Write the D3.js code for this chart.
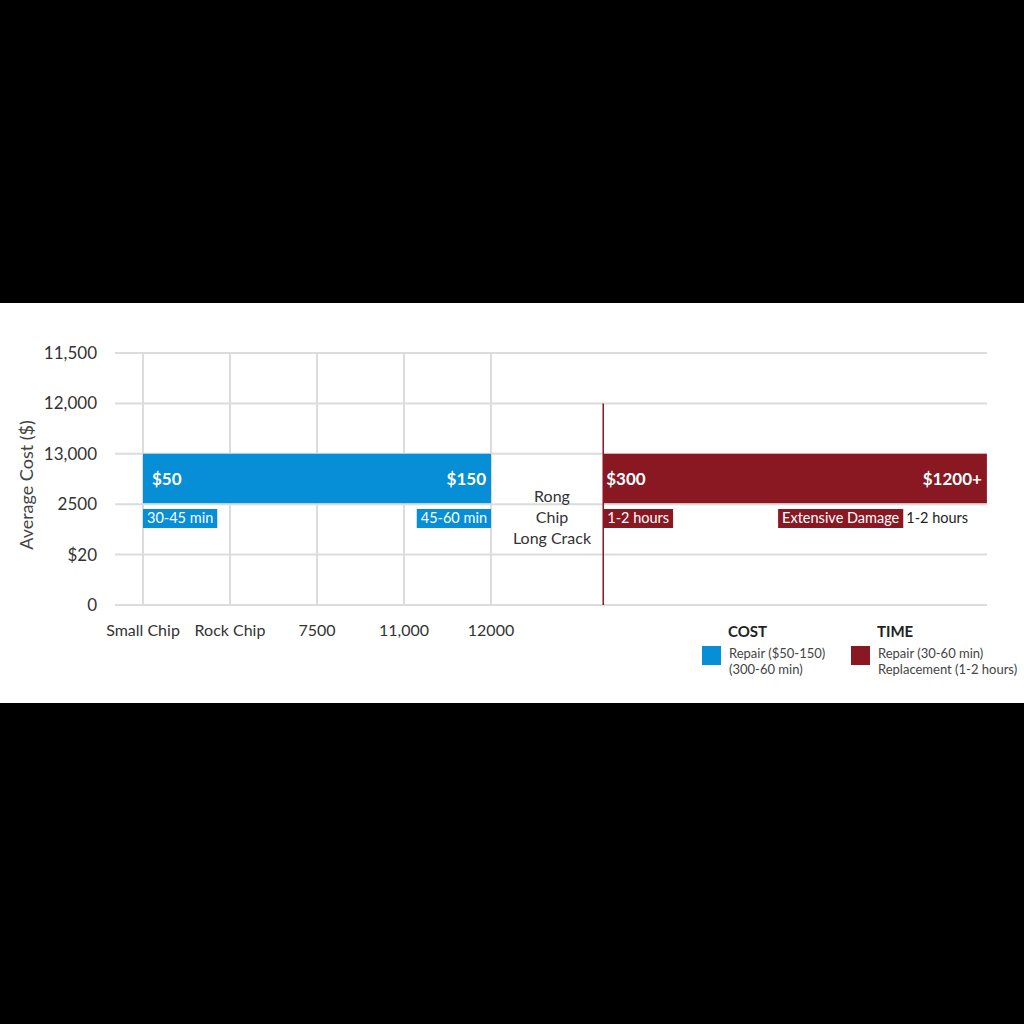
<!DOCTYPE html>
<html><head><meta charset="utf-8">
<script src="https://cdn.jsdelivr.net/npm/d3@7"></script>
<style>
html,body{margin:0;padding:0;background:#000;}
svg{display:block;}
text{font-family:Lato,"Open Sans",sans-serif;}
</style></head>
<body>
<script>
// ---- data ----
const yTickLabels = ["11,500","12,000","13,000","2500","$20","0"];
const xTickLabels = ["Small Chip","Rock Chip","7500","11,000","12000"];
const barNames = ["Repair","Replacement"];
const barStart = [0, 5.29];      // in x-category units
const barEnd   = [4, 9.7];
const barBandTop = "13,000", barBandBottom = "2500";
const costStartLabels = ["$50","$300"];
const costEndLabels = ["$150","$1200+"];
const timeLabels = [
  {text:"30-45 min", x:0, anchor:"start", boxed:true, bar:0},
  {text:"45-60 min", x:4, anchor:"end", boxed:true, bar:0},
  {text:"1-2 hours", x:5.29, anchor:"start", boxed:true, bar:1},
  {text:"Extensive Damage", x:7.3, anchor:"start", boxed:true, bar:1},
  {text:"1-2 hours", x:null, anchor:"follow", boxed:false, bar:1}
];
const middleLabels = ["Rong","Chip","Long Crack"];
const legendTitles = ["COST","TIME"];
const legendLines = [["Repair ($50-150)","(300-60 min)"],["Repair (30-60 min)","Replacement (1-2 hours)"]];
const colors = ["#068ed6","#8a1823"];

// ---- layout ----
const W=1024,H=1024;
const svg=d3.select("body").append("svg").attr("width",W).attr("height",H);
svg.append("rect").attr("width",W).attr("height",H).attr("fill","#000");
svg.append("rect").attr("x",0).attr("y",303).attr("width",W).attr("height",400).attr("fill","#fff");

const x = d3.scaleLinear().domain([0,4]).range([143,491]);
const y = d3.scalePoint().domain(yTickLabels).range([353,605]);
const plotLeft=115, plotRight=987;

// horizontal grid
svg.append("g").selectAll("line").data(yTickLabels).join("line")
  .attr("x1",plotLeft).attr("x2",plotRight).attr("y1",d=>y(d)).attr("y2",d=>y(d))
  .attr("stroke","#dcdcdc").attr("stroke-width",2);
// vertical grid
svg.append("g").selectAll("line").data(d3.range(xTickLabels.length)).join("line")
  .attr("x1",d=>x(d)).attr("x2",d=>x(d)).attr("y1",y("11,500")).attr("y2",y("0"))
  .attr("stroke","#dcdcdc").attr("stroke-width",2);

// y tick labels
svg.append("g").selectAll("text").data(yTickLabels).join("text")
  .attr("x",97).attr("y",d=>y(d)).attr("dy","0.35em").attr("text-anchor","end")
  .attr("font-size",17).attr("fill","#333").text(d=>d);
// x tick labels
svg.append("g").selectAll("text").data(xTickLabels).join("text")
  .attr("x",(d,i)=>x(i)).attr("y",630).attr("dy","0.35em").attr("text-anchor","middle")
  .attr("font-size",16).attr("fill","#333").text(d=>d);
// y title
svg.append("text").attr("transform","translate(27,485) rotate(-90)")
  .attr("text-anchor","middle").attr("dy","0.35em").attr("font-size",18).attr("fill","#444")
  .text("Average Cost ($)");

// red vertical line
svg.append("line").attr("x1",x(barStart[1])).attr("x2",x(barStart[1]))
  .attr("y1",y("12,000")).attr("y2",y("0")).attr("stroke",colors[1]).attr("stroke-width",1.5);

// bars
const yTop=y(barBandTop), yBot=y(barBandBottom);
svg.append("g").selectAll("rect").data(barNames).join("rect")
  .attr("x",(d,i)=>x(barStart[i])).attr("width",(d,i)=>x(barEnd[i])-x(barStart[i]))
  .attr("y",yTop).attr("height",yBot-yTop-1).attr("fill",(d,i)=>colors[i]);
// cost labels
svg.append("g").selectAll("text").data(costStartLabels).join("text")
  .attr("x",(d,i)=>x(barStart[i])+(i===0?9:3)).attr("y",(yTop+yBot)/2).attr("dy","0.35em")
  .attr("font-size",17).attr("font-weight","bold").attr("fill","#fff").text(d=>d);
svg.append("g").selectAll("text").data(costEndLabels).join("text")
  .attr("x",(d,i)=>x(barEnd[i])-5).attr("y",(yTop+yBot)/2).attr("dy","0.35em").attr("text-anchor","end")
  .attr("font-size",17).attr("font-weight","bold").attr("fill","#fff").text(d=>d);

// time labels
const tl = svg.append("g");
let lastEnd = 0;
timeLabels.forEach(t=>{
  const g=tl.append("g");
  const txt=g.append("text").attr("y",518).attr("dy","0.35em").attr("font-size",14.5)
    .attr("fill",t.boxed?"#fff":"#222").text(t.text);
  const w=txt.node().getComputedTextLength();
  let boxX;
  if(t.anchor==="start") boxX=x(t.x);
  else if(t.anchor==="end") boxX=x(t.x)-w-8;
  else boxX=lastEnd-1;
  txt.attr("x",boxX+4);
  if(t.boxed){
    g.insert("rect","text").attr("x",boxX).attr("y",509).attr("width",w+8).attr("height",19)
      .attr("fill",colors[t.bar]);
  }
  lastEnd=boxX+w+8;
});

// middle labels
svg.append("g").selectAll("text").data(middleLabels).join("text")
  .attr("x",552).attr("y",(d,i)=>496+i*21).attr("dy","0.35em").attr("text-anchor","middle")
  .attr("font-size",16).attr("fill","#333").text(d=>d);

// legend
const legX=[702,851];
legendTitles.forEach((t,i)=>{
  const g=svg.append("g");
  g.append("text").attr("x",legX[i]+26).attr("y",632).attr("dy","0.35em").attr("font-size",15)
    .attr("font-weight","bold").attr("fill","#222").text(t);
  g.append("rect").attr("x",legX[i]).attr("y",646).attr("width",19).attr("height",19).attr("fill",colors[i]);
  legendLines[i].forEach((l,j)=>{
    g.append("text").attr("x",legX[i]+27).attr("y",653+j*16).attr("dy","0.35em").attr("font-size",13)
      .attr("fill","#444").text(l);
  });
});
</script>
</body></html>
